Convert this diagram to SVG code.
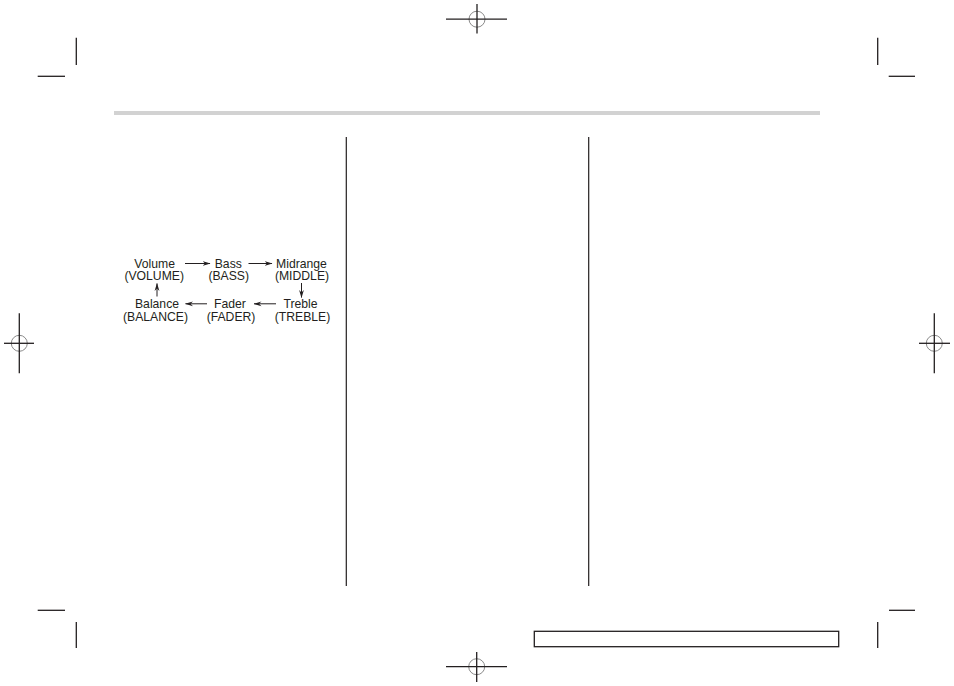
<svg xmlns="http://www.w3.org/2000/svg" width="954" height="686" viewBox="0 0 954 686">
<style>
.crop{stroke:#231f20;stroke-width:1.3;fill:none}
.reg{stroke:#231f20;stroke-width:1.3;fill:none}
.regc{stroke:#8a8a8a;stroke-width:1;fill:none}
.col{stroke:#231f20;stroke-width:1.2}
.lbl{font-family:"Liberation Sans",Arial,sans-serif;font-size:12.2px;fill:#231f20;text-anchor:middle}
.arr{stroke:#231f20;stroke-width:1;fill:none;marker-end:url(#ah)}
</style>
<defs>
<marker id="ah" markerWidth="8" markerHeight="6" refX="7.5" refY="3" orient="auto" markerUnits="userSpaceOnUse">
<path d="M0,0.6 L8,3 L0,5.4 L2.5,3 Z" fill="#231f20"/>
</marker>
</defs>
<rect width="954" height="686" fill="#ffffff"/>
<g id="page-frame">
<rect x="114" y="111" width="706" height="4" fill="#d2d2d2"/>
<line class="col" x1="346.3" y1="137" x2="346.3" y2="586"/>
<line class="col" x1="588.7" y1="137" x2="588.7" y2="586"/>
<rect x="534.3" y="631.3" width="304.4" height="15.4" fill="none" stroke="#231f20" stroke-width="1.3"/>
</g>
<g id="crop-marks">
<line class="crop" x1="76.3" y1="37.7" x2="76.3" y2="65"/>
<line class="crop" x1="37.7" y1="76.3" x2="65" y2="76.3"/>
<line class="crop" x1="877.7" y1="37.7" x2="877.7" y2="65"/>
<line class="crop" x1="888.7" y1="76.3" x2="915" y2="76.3"/>
<line class="crop" x1="37.7" y1="610.3" x2="65" y2="610.3"/>
<line class="crop" x1="76.3" y1="622" x2="76.3" y2="648"/>
<line class="crop" x1="889" y1="610.3" x2="915" y2="610.3"/>
<line class="crop" x1="877.7" y1="622" x2="877.7" y2="648"/>
</g>
<g id="register-marks">
<circle class="regc" cx="477" cy="19.2" r="8"/>
<line class="reg" x1="446" y1="19.2" x2="507" y2="19.2"/>
<line class="reg" x1="477" y1="4" x2="477" y2="33.5"/>
<circle class="regc" cx="476.7" cy="666.7" r="8"/>
<line class="reg" x1="446" y1="666.7" x2="507" y2="666.7"/>
<line class="reg" x1="476.7" y1="652" x2="476.7" y2="682"/>
<circle class="regc" cx="19.3" cy="343.3" r="8"/>
<line class="reg" x1="4" y1="343.3" x2="34" y2="343.3"/>
<line class="reg" x1="19.3" y1="313.3" x2="19.3" y2="373.3"/>
<circle class="regc" cx="934.3" cy="343.3" r="8"/>
<line class="reg" x1="919" y1="343.3" x2="950" y2="343.3"/>
<line class="reg" x1="934.3" y1="313.3" x2="934.3" y2="373.3"/>
</g>
<g id="node-volume">
<text class="lbl" x="154.7" y="267.5">Volume</text>
<text class="lbl" x="154.2" y="280">(VOLUME)</text>
</g>
<g id="node-bass">
<text class="lbl" x="228.3" y="267.5">Bass</text>
<text class="lbl" x="228.7" y="280">(BASS)</text>
</g>
<g id="node-midrange">
<text class="lbl" x="301.5" y="267.5">Midrange</text>
<text class="lbl" x="302" y="280">(MIDDLE)</text>
</g>
<g id="node-treble">
<text class="lbl" x="300.5" y="308">Treble</text>
<text class="lbl" x="302.5" y="320.5">(TREBLE)</text>
</g>
<g id="node-fader">
<text class="lbl" x="230" y="308">Fader</text>
<text class="lbl" x="231" y="320.5">(FADER)</text>
</g>
<g id="node-balance">
<text class="lbl" x="157" y="308">Balance</text>
<text class="lbl" x="155.5" y="320.5">(BALANCE)</text>
</g>
<g id="connectors">
<line class="arr" x1="185" y1="263.5" x2="210" y2="263.5"/>
<line class="arr" x1="248.5" y1="263.5" x2="272" y2="263.5"/>
<line class="arr" x1="301.5" y1="283" x2="301.5" y2="297.5"/>
<line class="arr" x1="276" y1="303.8" x2="254" y2="303.8"/>
<line class="arr" x1="207" y1="303.8" x2="185.5" y2="303.8"/>
<line class="arr" x1="157" y1="296.5" x2="157" y2="283.5"/>
</g>
</svg>
